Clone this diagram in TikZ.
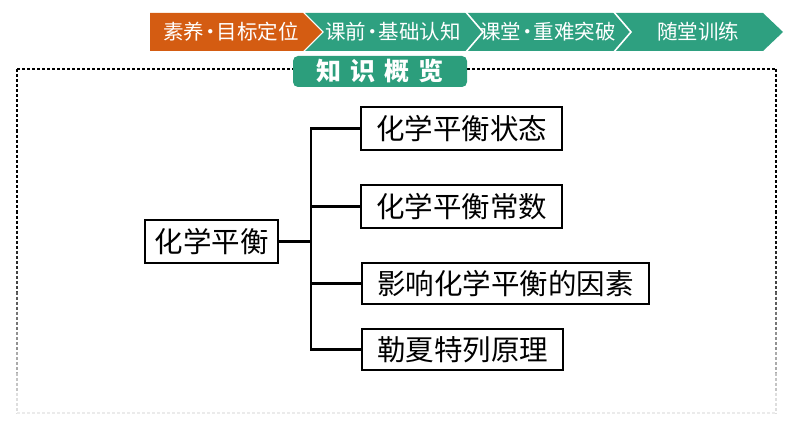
\documentclass[tikz,border=0pt]{standalone}
\usepackage{fontspec}
\newfontfamily\cjk{Noto Sans CJK SC}
\definecolor{navgreen}{RGB}{46,160,128}
\definecolor{navorange}{RGB}{212,92,18}
\definecolor{badgegreen}{RGB}{44,158,124}
\newcommand{\navdot}{\kern-4pt•\kern-4pt}
\tikzset{
  navtext/.style={text=white,font=\cjk\fontsize{20.5}{20.5}\selectfont,inner sep=0pt},
  box/.style={draw=black,line width=2pt,inner sep=0pt,fill=white,font=\cjk\fontsize{28.5}{28.5}\selectfont},
  conn/.style={draw=black,line width=2.2pt},
  frame/.style={line width=1.5pt,dash pattern=on 3pt off 2pt},
}
\begin{document}
\begin{tikzpicture}[x=1pt,y=-1pt]
\useasboundingbox (0,0) rectangle (794,446);
% navigation banner
\fill[navgreen] (305,13) -- (763,13) -- (783,32) -- (763,51) -- (305,51) -- (324,32) -- cycle;
\fill[navorange] (150,13) -- (303,13) -- (322,32) -- (303,51) -- (150,51) -- cycle;
\draw[white,line width=1.6pt] (465,11) -- (483,32) -- (465,53);
\draw[white,line width=1.6pt] (613,11) -- (631,32) -- (613,53);
\node[navtext] (n1) at (231,32) {素养\navdot 目标定位};
\node[navtext] (n2) at (393,32) {课前\navdot 基础认知};
\node[navtext] (n3) at (548,32) {课堂\navdot 重难突破};
\node[navtext] (n4) at (698,32) {随堂训练};
% dashed frame
\draw[frame] (17,69) -- (776,69);
\foreach \k in {0,...,16}{
  \pgfmathsetmacro\ya{69+20.24*\k}
  \pgfmathsetmacro\yb{\ya+20.24}
  \pgfmathtruncatemacro\v{max(8,min(100,100-(\ya-220)*0.5))}
  \draw[frame,draw=black!\v] (17,\ya) -- (17,\yb);
  \draw[frame,draw=black!\v] (776,\ya) -- (776,\yb);
}
\draw[frame,draw=black!8] (17,413) -- (776,413);
% title badge
\fill[badgegreen,rounded corners=5pt] (293,56) rectangle (467,87);
\node[text=white,font=\cjk\bfseries\fontsize{25}{25}\selectfont,inner sep=0pt] (title) at (380,71.5) {知\hspace{9pt}识\hspace{9pt}概\hspace{9pt}览};
% tree
\node[box,minimum width=133pt,minimum height=43pt] (root) at (211.5,241.5) {化学平衡};
\node[box,minimum width=201pt,minimum height=43pt] (c1) at (461.5,128.5) {化学平衡状态};
\node[box,minimum width=201pt,minimum height=43pt] (c2) at (461.5,206.5) {化学平衡常数};
\node[box,minimum width=287pt,minimum height=41pt] (c3) at (505.5,283.5) {影响化学平衡的因素};
\node[box,minimum width=201pt,minimum height=41pt] (c4) at (462.5,349.5) {勒夏特列原理};
\coordinate (j) at (311,241.5);
\draw[conn] (root.east) -- (j);
\draw[conn] (c1.west) -- (c1.west -| j) -- (c4.west -| j) -- (c4.west);
\draw[conn] (c2.west) -- (c2.west -| j);
\draw[conn] (c3.west) -- (c3.west -| j);
\end{tikzpicture}
\end{document}
